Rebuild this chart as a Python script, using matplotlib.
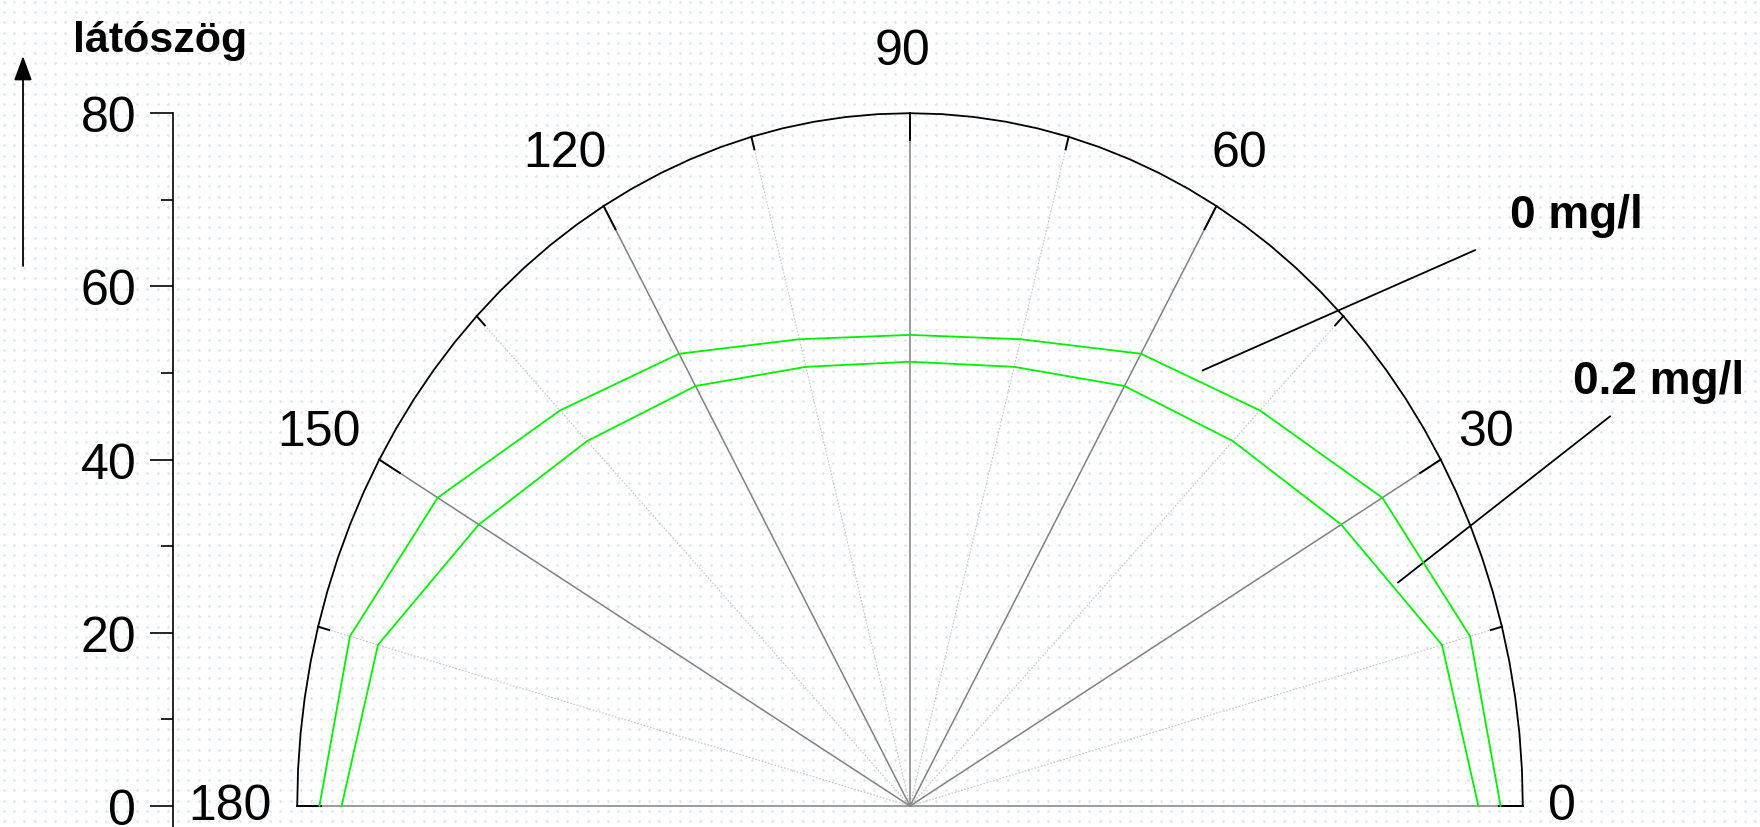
import numpy as np
import matplotlib
matplotlib.use('Agg')
import matplotlib.pyplot as plt

# látószög (fok) és a két koncentrációhoz tartozó értékek
angles = [0, 15, 30, 45, 60, 75, 90, 105, 120, 135, 150, 165, 180]
r_0mg = [77.1, 75.7, 71.2, 64.6, 60.3, 55.8, 54.4, 55.8, 60.3, 64.6, 71.2, 75.7, 77.1]
r_02mg = [74.2, 71.9, 65.0, 59.6, 56.0, 52.5, 51.3, 52.5, 56.0, 59.6, 65.0, 71.9, 74.2]
series_labels = ['0 mg/l', '0.2 mg/l']
r_max = 80
angle_ticks = [0, 30, 60, 90, 120, 150, 180]
y_ticks = [0, 20, 40, 60, 80]
y_minor = [10, 30, 50, 70]
axis_title = 'látószög'

plt.rcParams['font.family'] = ['Liberation Sans', 'DejaVu Sans']

W, H = 1760, 828
fig = plt.figure(figsize=(W / 100, H / 100), dpi=100)

# dotted paper background
bg = fig.add_axes([0, 0, 1, 1], zorder=-1)
gx, gy = np.meshgrid(np.arange(4, W, 10.24), np.arange(3, H, 10.24))
bg.scatter(gx.ravel(), gy.ravel(), s=3.2, c='#d0e8eb', linewidths=0)
bg.set_xlim(0, W)
bg.set_ylim(H, 0)
bg.axis('off')

# data axes: pole at pixel (910, 807), 7.66 px/unit horiz, 8.66 px/unit vert
cx, cy, sx, sy = 910, 807, 7.66, 8.66
ax = fig.add_axes([0, 0, 1, 1])
ax.patch.set_alpha(0)
ax.set_xlim(-cx / sx, (W - cx) / sx)
ax.set_ylim(-(H - cy) / sy, cy / sy)


def pol(r, deg):
    t = np.deg2rad(deg)
    return np.asarray(r) * np.cos(t), np.asarray(r) * np.sin(t)


# spokes and outer ticks
for a in range(0, 181, 15):
    if a % 30 == 0:
        x, y = pol([0, r_max], a)
        ax.plot(x, y, color='#808080', lw=1.1, zorder=2)
        x, y = pol([r_max - 3.1, r_max], a)
        ax.plot(x, y, color='black', lw=1.4, zorder=3)
    else:
        x, y = pol([0, r_max - 1.5], a)
        ax.plot(x, y, color='#c4c4c4', lw=0.8, ls=(0, (1.5, 1.5)), zorder=2)
        x, y = pol([r_max - 1.5, r_max], a)
        ax.plot(x, y, color='black', lw=1.4, zorder=3)

# outer arc
t = np.linspace(0, 180, 61)
x, y = pol(np.full_like(t, r_max), t)
ax.plot(x, y, color='black', lw=1.3, zorder=3)

# angle labels
for a in angle_ticks:
    if a == 0:
        x, y = pol(83.3, a)
        ax.text(x, y, str(a), fontsize=36, ha='left', va='center')
    elif a == 180:
        x, y = pol(83.3, a)
        ax.text(x, y, str(a), fontsize=36, ha='right', va='center')
    else:
        x, y = pol(88, a)
        ax.text(x - 1.0, y - 0.8, str(a), fontsize=36, ha='center', va='center')

# series
for rv in (r_0mg, r_02mg):
    x, y = pol(rv, angles)
    ax.plot(x, y, color='#00f000', lw=1.3, zorder=4)

# series labels with leader lines
ax.text(78.3, 68.2, series_labels[0], fontsize=33, fontweight='bold',
        ha='left', va='center')
ax.annotate('', xy=(38.2, 50.3), xytext=(73.8, 64.2),
            arrowprops=dict(arrowstyle='-', color='black', lw=1.3,
                            shrinkA=0, shrinkB=0))
ax.text(86.6, 49.1, series_labels[1], fontsize=33, fontweight='bold',
        ha='left', va='center')
ax.annotate('', xy=(63.7, 25.8), xytext=(91.4, 45.0),
            arrowprops=dict(arrowstyle='-', color='black', lw=1.3,
                            shrinkA=0, shrinkB=0))

# y axis
for s in ['top', 'right', 'bottom']:
    ax.spines[s].set_visible(False)
ax.spines['left'].set_position(('data', (173 - cx) / sx))
ax.spines['left'].set_bounds(-3, r_max)
ax.spines['left'].set_linewidth(1.2)
ax.set_xticks([])
ax.set_yticks(y_ticks)
ax.set_yticks(y_minor, minor=True)
ax.tick_params(axis='y', which='major', direction='out', length=16.5,
               width=1.2, labelsize=36, pad=10)
ax.tick_params(axis='y', which='minor', direction='out', length=8.5,
               width=1.2)

# axis title with arrow
ax.text((73 - cx) / sx, (cy - 52) / sy, axis_title, fontsize=31,
        fontweight='bold', ha='left', va='baseline')
ax.annotate('', xy=((23 - cx) / sx, (cy - 57) / sy),
            xytext=((23 - cx) / sx, (cy - 267) / sy),
            arrowprops=dict(arrowstyle='-|>,head_length=1.5,head_width=0.55',
                            mutation_scale=10, color='black', lw=1.3,
                            shrinkA=0, shrinkB=0))

fig.savefig('out.png', dpi=100)
